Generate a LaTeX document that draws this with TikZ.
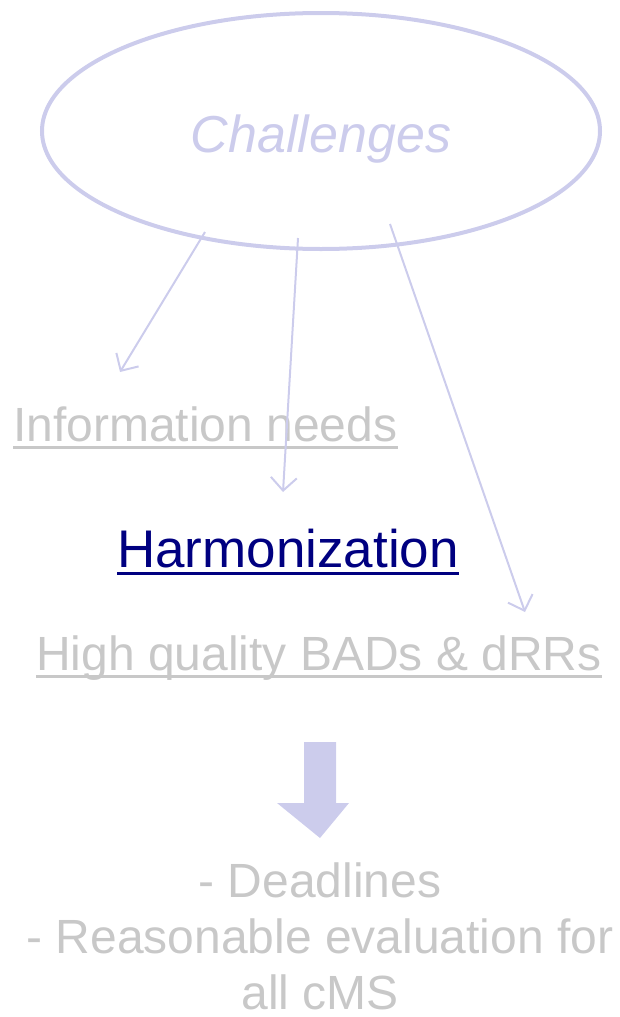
\documentclass[tikz,border=0pt]{standalone}
\usepackage{fontspec}
\setmainfont{Liberation Sans}
\usetikzlibrary{shapes.geometric,arrows.meta,calc}
\definecolor{lav}{RGB}{204,204,236}
\definecolor{txtgray}{RGB}{200,200,200}
\definecolor{navyc}{RGB}{0,0,128}
\tikzset{
  conn/.style={draw=lav,line width=2pt,-{Straight Barb[length=13pt,width=26pt,line width=2pt]}},
  lbl/.style={inner sep=0pt,anchor=base west,font=\fontsize{48}{55}\selectfont,text=txtgray},
  uline/.style={line width=3pt},
}
\begin{document}
\begin{tikzpicture}[x=1pt,y=-1pt]
\useasboundingbox (0,0) rectangle (619,1017);
\node[ellipse,draw=lav,line width=4pt,minimum width=558pt,minimum height=236pt,inner sep=0pt] (ch) at (321,131) {};
\node[inner sep=0pt,anchor=base,font=\fontsize{52}{60}\selectfont\itshape,text=lav] (cht) at (321,152) {Challenges};
\node[lbl] (info) at (13,441) {Information needs};
\node[lbl,font=\fontsize{53}{60}\selectfont,text=navyc] (harm) at (117,567) {Harmonization};
\node[lbl] (hq) at (36,670) {High quality BADs \& dRRs};
\node[inner sep=0pt,anchor=base,align=center,font=\fontsize{48}{56}\selectfont,text=txtgray] (dl) at (320,1009) {- Deadlines\\- Reasonable evaluation for\\all cMS};
\draw[uline,txtgray] ([yshift=-6pt]info.base west) -- ([yshift=-6pt]info.base east);
\draw[uline,navyc] ([yshift=-6pt]harm.base west) -- ([yshift=-6pt]harm.base east);
\draw[uline,txtgray] ([yshift=-6pt]hq.base west) -- ([yshift=-6pt]hq.base east);
\coordinate (t1) at (120,372);
\coordinate (t2) at (283,492);
\coordinate (t3) at (525,612);
\draw[conn] ($(ch.center)+(-116,101)$) -- (t1);
\draw[conn] ($(ch.center)+(-23,107)$) -- (t2);
\draw[conn] ($(ch.center)+(69,93)$) -- (t3);
\fill[lav] (304,742) -- (336,742) -- (336,803) -- (349,803) -- (320,838) -- (277,803) -- (304,803) -- cycle;
\end{tikzpicture}
\end{document}
